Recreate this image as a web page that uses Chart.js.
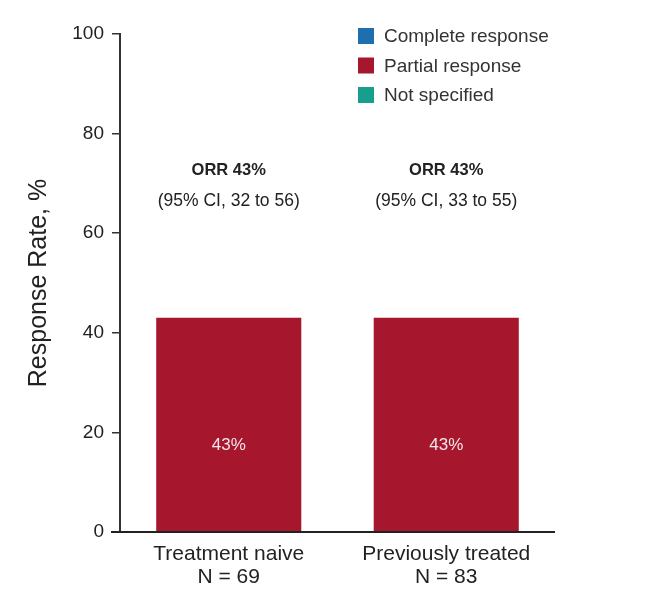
<!DOCTYPE html>
<html>
<head>
<meta charset="utf-8">
<script src="https://cdn.jsdelivr.net/npm/chart.js@4/dist/chart.umd.min.js"></script>
<style>
html,body{margin:0;padding:0;background:#fff;}
#wrap{width:657px;height:602px;}
</style>
</head>
<body>
<div id="wrap"><canvas id="c" width="657" height="602"></canvas></div>
<script>
const categories = [["Treatment naive", "N = 69"], ["Previously treated", "N = 83"]];
const seriesNames = ["Complete response", "Partial response", "Not specified"];
const completeResponse = [0, 0];
const partialResponse = [43, 43];
const notSpecified = [0, 0];
const orrLabels = ["ORR 43%", "ORR 43%"];
const ciLabels = ["(95% CI, 32 to 56)", "(95% CI, 33 to 55)"];
const barLabels = ["43%", "43%"];
const yTicks = [0, 20, 40, 60, 80, 100];

const colors = ["#1f6fae", "#a6172d", "#189e8d"];
const FONT = "'Liberation Sans', Arial, Helvetica, sans-serif";

const extras = {
  id: 'extras',
  afterDraw(chart) {
    const ctx = chart.ctx;
    const ca = chart.chartArea;
    const x = chart.scales.x, y = chart.scales.y;
    ctx.save();
    // x axis line
    ctx.strokeStyle = '#222';
    ctx.lineWidth = 2;
    ctx.beginPath();
    ctx.moveTo(ca.left - 9, y.getPixelForValue(0));
    ctx.lineTo(ca.right, y.getPixelForValue(0));
    ctx.stroke();
    // annotations
    ctx.textAlign = 'center';
    ctx.textBaseline = 'middle';
    categories.forEach((c, i) => {
      const cx = x.getPixelForValue(i);
      ctx.fillStyle = '#222';
      ctx.font = 'bold 16.5px ' + FONT;
      ctx.fillText(orrLabels[i], cx, y.getPixelForValue(72.7));
      ctx.font = '17.5px ' + FONT;
      ctx.fillText(ciLabels[i], cx, y.getPixelForValue(66.4));
      ctx.fillStyle = '#f4e6ea';
      ctx.font = '17px ' + FONT;
      ctx.fillText(barLabels[i], cx, y.getPixelForValue(17.4));
    });
    // legend
    ctx.textAlign = 'left';
    ctx.font = '19px ' + FONT;
    chart.data.datasets.forEach((ds, i) => {
      const cy = 36 + i * 29.5;
      ctx.fillStyle = ds.backgroundColor;
      ctx.fillRect(358, cy - 8, 16, 16);
      ctx.fillStyle = '#333';
      ctx.fillText(ds.label, 384, cy + 1);
    });
    ctx.restore();
  }
};

new Chart(document.getElementById('c'), {
  type: 'bar',
  data: {
    labels: categories,
    datasets: [
      {label: seriesNames[0], data: completeResponse, backgroundColor: colors[0]},
      {label: seriesNames[1], data: partialResponse, backgroundColor: colors[1]},
      {label: seriesNames[2], data: notSpecified, backgroundColor: colors[2]}
    ]
  },
  options: {
    responsive: false,
    animation: false,
    layout: {padding: {top: 34, right: 102, left: 0, bottom: 0}},
    plugins: {legend: {display: false}, tooltip: {enabled: false}},
    datasets: {bar: {categoryPercentage: 1, barPercentage: 0.667, borderWidth: 0}},
    scales: {
      x: {
        stacked: true,
        grid: {display: false},
        border: {display: false},
        ticks: {color: '#222', font: {family: FONT, size: 21, lineHeight: 1.1}, padding: 3, maxRotation: 0},
        afterFit(s) { s.height = 70; }
      },
      y: {
        stacked: true,
        min: 0, max: 100,
        afterBuildTicks(s) { s.ticks = yTicks.map(v => ({value: v})); },
        grid: {drawOnChartArea: false, drawTicks: true, tickLength: 8, color: '#333', lineWidth: 1.5},
        border: {display: true, color: '#333', width: 2},
        ticks: {color: '#222', font: {family: FONT, size: 19}, padding: 8},
        title: {display: true, text: 'Response Rate, %', color: '#222', font: {family: FONT, size: 25}, padding: {top: 24, bottom: 0}},
        afterFit(s) { s.width = 120; }
      }
    }
  },
  plugins: [extras]
});
</script>
</body>
</html>
